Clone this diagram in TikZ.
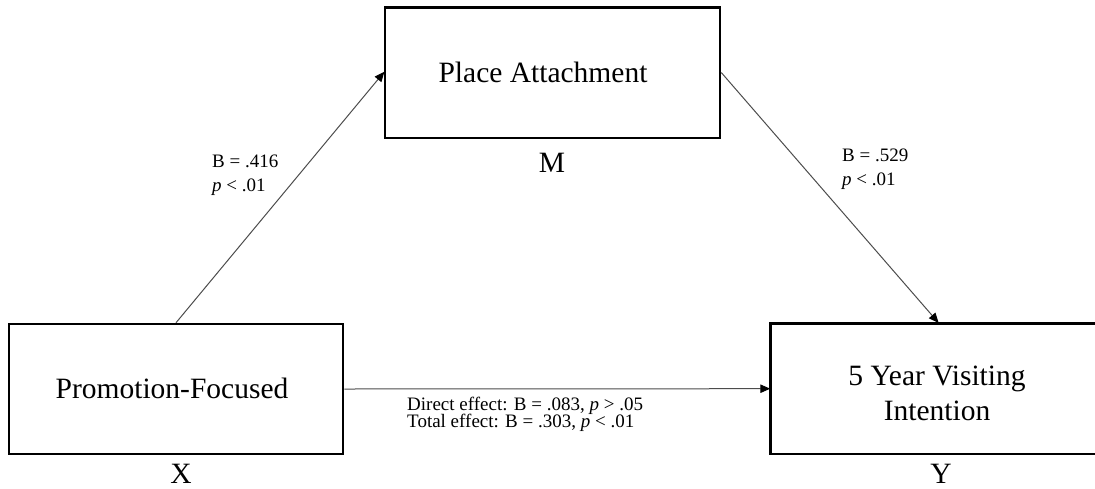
\documentclass[tikz,border=0pt]{standalone}
\usepackage{fontspec}
\setmainfont{Liberation Serif}
\usetikzlibrary{arrows.meta}
\begin{document}
\begin{tikzpicture}[x=1pt,y=-1pt,
  box/.style={draw=black,line width=2.5pt,inner sep=0pt},
  big/.style={font=\fontsize{29.5}{35}\selectfont,inner sep=0pt,anchor=base},
  small/.style={font=\fontsize{19}{24}\selectfont,inner sep=0pt,anchor=base west},
  conn/.style={draw=black!70,line width=1pt,-{Triangle[length=10pt,width=8.5pt,color=black]},shorten >=-1pt}]
\useasboundingbox (0,0) rectangle (1095,488);
\clip (0,0) rectangle (1095,488);
% boxes
\node[box,minimum width=335pt,minimum height=130.5pt] (M) at (552.5,72.5) {};
\node[box,minimum width=334pt,minimum height=130pt] (X) at (176,389) {};
\node[box,minimum width=335pt,minimum height=130.5pt] (Y) at (938,388.7) {};
% box texts
\node[big] (mt) at (543,82) {Place Attachment};
\node[big] (xt) at (172,398) {Promotion-Focused};
\node[big] (yt1) at (937,385) {5 Year Visiting};
\node[big] (yt2) at (937,420) {Intention};
% letters
\node[big] (ml) at (552,172) {M};
\node[big] (xl) at (181,483) {X};
\node[big] (yl) at (941,483) {Y};
% connectors
\draw[conn] (X.north) -- (M.west);
\draw[conn] (M.east) -- (Y.north);
\draw[conn] (X.east) -- (Y.west);
% labels
\node[small] (a1) at (212,167) {B = .416};
\node[small] (a2) at (212,191) {\textit{p} < .01};
\node[small] (b1) at (842,161) {B = .529};
\node[small] (b2) at (842,185) {\textit{p} < .01};
\node[small] (c1) at (407,410) {Direct effect: B = .083, \textit{p} > .05};
\node[small] (c2) at (407,427) {Total effect: B = .303, \textit{p} < .01};
\end{tikzpicture}
\end{document}
